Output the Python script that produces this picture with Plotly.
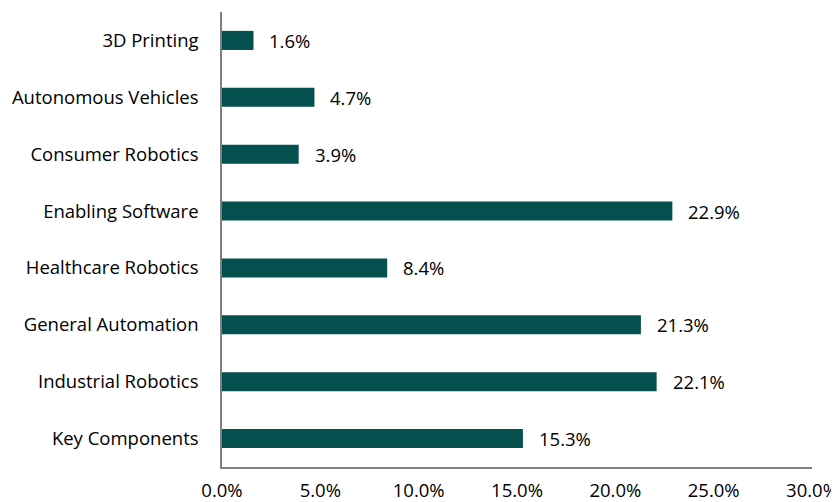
import plotly.graph_objects as go

categories = ["3D Printing", "Autonomous Vehicles", "Consumer Robotics", "Enabling Software",
              "Healthcare Robotics", "General Automation", "Industrial Robotics", "Key Components"]
values = [1.6, 4.7, 3.9, 22.9, 8.4, 21.3, 22.1, 15.3]
tick_vals = [0, 5, 10, 15, 20, 25, 30]
tick_text = ["0.0%", "5.0%", "10.0%", "15.0%", "20.0%", "25.0%", "30.0%"]

BAR = "#03504F"
FONT = "'Open Sans', sans-serif"
FS = 18.5

fig = go.Figure(go.Bar(
    x=values, y=categories, orientation="h",
    marker=dict(color=BAR, line=dict(width=0)),
    hoverinfo="skip",
))

for c, v in zip(categories, values):
    fig.add_annotation(x=v, y=c, text=f"{v:.1f}%", showarrow=False,
                       xanchor="left", xshift=14, font=dict(size=FS, color="#000000", family=FONT))

fig.update_layout(
    width=845, height=510,
    margin=dict(l=214, r=41, t=4, b=51),
    paper_bgcolor="white", plot_bgcolor="white",
    bargap=0.665,
    showlegend=False,
    font=dict(family=FONT, size=FS, color="#000000"),
    xaxis=dict(range=[0, 30], tickvals=tick_vals, ticktext=tick_text, automargin=False,
               showgrid=False, zeroline=False, showline=True, linecolor="#808080", linewidth=1.5,
               ticks="", ticklabelstandoff=6, tickfont=dict(size=FS)),
    yaxis=dict(categoryorder="array", categoryarray=categories, autorange="reversed", automargin=False,
               showgrid=False, zeroline=False, showline=True, linecolor="#808080", linewidth=1.5,
               ticks="", ticklabelstandoff=18, tickfont=dict(size=FS)),
)

fig.write_html("out.html")
